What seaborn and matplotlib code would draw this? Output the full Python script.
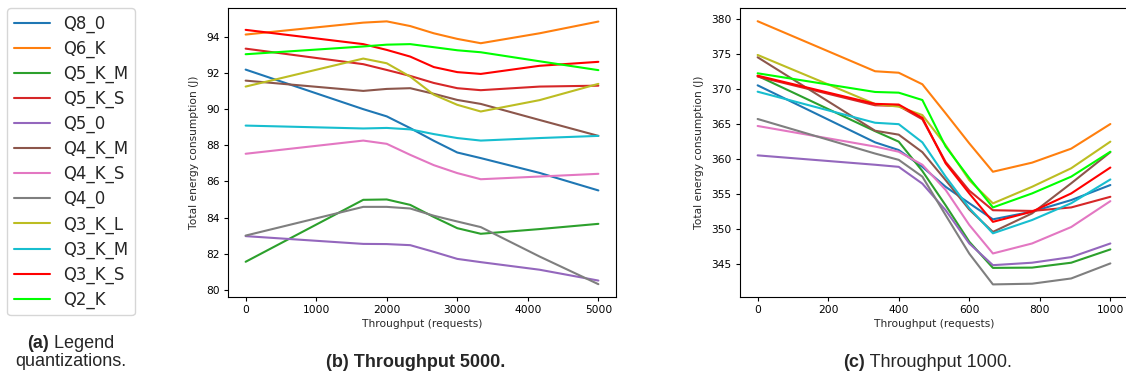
import matplotlib
matplotlib.use("Agg")
import matplotlib.pyplot as plt
from matplotlib.lines import Line2D
import seaborn as sns
import pandas as pd

# ---------------- data ----------------
SERIES = ["Q8_0", "Q6_K", "Q5_K_M", "Q5_K_S", "Q5_0", "Q4_K_M", "Q4_K_S",
          "Q4_0", "Q3_K_L", "Q3_K_M", "Q3_K_S", "Q2_K"]
COLORS = ["#1f77b4", "#ff7f0e", "#2ca02c", "#d62728", "#9467bd", "#8c564b",
          "#e377c2", "#7f7f7f", "#bcbd22", "#17becf", "#ff0000", "#00ff00"]

# Panel (b): throughput 5000
X_B = [0, 1667, 2000, 2333, 2667, 3000, 3333, 4167, 5000]
b_q8_0   = [92.19, 90.00, 89.60, 88.95, 88.25, 87.60, 87.29, 86.47, 85.50]
b_q6_k   = [94.13, 94.79, 94.86, 94.60, 94.20, 93.89, 93.65, 94.20, 94.85]
b_q5_k_m = [81.55, 84.98, 85.00, 84.70, 84.03, 83.41, 83.10, 83.36, 83.65]
b_q5_k_s = [93.35, 92.49, 92.17, 91.84, 91.45, 91.16, 91.05, 91.25, 91.30]
b_q5_0   = [82.97, 82.54, 82.53, 82.47, 82.10, 81.71, 81.53, 81.11, 80.51]
b_q4_k_m = [91.58, 91.01, 91.12, 91.16, 90.85, 90.51, 90.29, 89.40, 88.52]
b_q4_k_s = [87.53, 88.26, 88.08, 87.47, 86.90, 86.46, 86.12, 86.27, 86.42]
b_q4_0   = [83.00, 84.59, 84.59, 84.50, 84.10, 83.78, 83.47, 81.84, 80.31]
b_q3_k_l = [91.25, 92.80, 92.54, 91.80, 90.80, 90.24, 89.87, 90.50, 91.40]
b_q3_k_m = [89.09, 88.93, 88.96, 88.88, 88.62, 88.40, 88.26, 88.40, 88.52]
b_q3_k_s = [94.39, 93.60, 93.28, 92.91, 92.33, 92.05, 91.95, 92.40, 92.62]
b_q2_k   = [93.04, 93.47, 93.57, 93.60, 93.43, 93.26, 93.15, 92.65, 92.16]

# Panel (c): throughput 1000
X_C = [0, 333, 400, 467, 533, 600, 667, 778, 889, 1000]
c_q8_0   = [370.55, 362.40, 361.30, 358.90, 356.05, 353.70, 351.40, 352.50, 354.15, 356.30]
c_q6_k   = [379.71, 372.56, 372.35, 370.70, 366.55, 362.26, 358.20, 359.50, 361.50, 365.02]
c_q5_k_m = [371.90, 364.00, 362.50, 358.30, 353.40, 348.20, 344.46, 344.50, 345.20, 347.10]
c_q5_k_s = [371.80, 367.70, 367.60, 365.70, 359.60, 355.50, 352.70, 352.60, 353.10, 354.62]
c_q5_0   = [360.54, 359.20, 358.90, 356.50, 352.70, 347.95, 344.85, 345.20, 346.00, 347.95]
c_q4_k_m = [374.56, 364.06, 363.50, 361.00, 357.00, 352.80, 349.60, 352.25, 356.55, 361.00]
c_q4_k_s = [364.74, 361.80, 361.06, 359.20, 355.60, 350.60, 346.52, 347.95, 350.30, 354.00]
c_q4_0   = [365.74, 360.80, 359.90, 357.50, 352.00, 346.50, 342.10, 342.20, 342.95, 345.10]
c_q3_k_l = [374.89, 367.88, 367.50, 366.30, 362.00, 357.00, 353.68, 356.05, 358.70, 362.50]
c_q3_k_m = [369.64, 365.20, 365.00, 362.40, 357.50, 353.00, 349.40, 351.30, 353.70, 357.10]
c_q3_k_s = [371.93, 367.90, 367.80, 365.90, 359.40, 355.10, 351.04, 352.50, 355.10, 358.80]
c_q2_k   = [372.27, 369.60, 369.50, 368.45, 361.80, 357.30, 353.10, 355.10, 357.50, 361.06]

B_VALUES = [b_q8_0, b_q6_k, b_q5_k_m, b_q5_k_s, b_q5_0, b_q4_k_m, b_q4_k_s,
            b_q4_0, b_q3_k_l, b_q3_k_m, b_q3_k_s, b_q2_k]
C_VALUES = [c_q8_0, c_q6_k, c_q5_k_m, c_q5_k_s, c_q5_0, c_q4_k_m, c_q4_k_s,
            c_q4_0, c_q3_k_l, c_q3_k_m, c_q3_k_s, c_q2_k]

X_TICKS_B = [0, 1000, 2000, 3000, 4000, 5000]
Y_TICKS_B = [80, 82, 84, 86, 88, 90, 92, 94]
X_TICKS_C = [0, 200, 400, 600, 800, 1000]
Y_TICKS_C = [345, 350, 355, 360, 365, 370, 375, 380]


def long_df(xs, values):
    rows = []
    for name, vals in zip(SERIES, values):
        for x, y in zip(xs, vals):
            rows.append({"x": x, "y": y, "series": name})
    return pd.DataFrame(rows)


# ---------------- figure ----------------
sns.set_style("ticks")
plt.rcParams["font.family"] = ["DejaVu Sans"]

W, H = 1126, 376
fig = plt.figure(figsize=(W / 100, H / 100), dpi=100)
palette = dict(zip(SERIES, COLORS))

def px_axes(left, top, right, bottom):
    return fig.add_axes([left / W, 1 - bottom / H, (right - left) / W, (bottom - top) / H])

ax_b = px_axes(228, 8, 616, 297)
ax_c = px_axes(740, 8, 1128, 297)

for ax, xs, vals, xt, yt, xlim, ylim in [
    (ax_b, X_B, B_VALUES, X_TICKS_B, Y_TICKS_B, (-250, 5250), (79.6, 95.6)),
    (ax_c, X_C, C_VALUES, X_TICKS_C, Y_TICKS_C, (-50, 1050), (340.3, 381.6)),
]:
    df = long_df(xs, vals)
    sns.lineplot(data=df, x="x", y="y", hue="series", hue_order=SERIES,
                 palette=palette, linewidth=1.5, legend=False, ax=ax,
                 estimator=None, sort=True)
    ax.set_xlim(*xlim)
    ax.set_ylim(*ylim)
    ax.set_xticks(xt)
    ax.set_yticks(yt)
    ax.tick_params(labelsize=7.7, length=3, width=0.8, pad=3, colors="black")
    ax.set_xlabel("Throughput (requests)", fontsize=7.7, labelpad=2.5)
    ax.set_ylabel("Total energy consumption (J)", fontsize=7.7, labelpad=5)
    for s in ax.spines.values():
        s.set_visible(True)
        s.set_color("black")
        s.set_linewidth(0.8)

# legend (panel a)
handles = [Line2D([], [], color=c, linewidth=1.5) for c in COLORS]
leg = fig.legend(handles, SERIES, loc="upper left",
                 bbox_to_anchor=(7.5 / W, 1 - 8.3 / H), borderaxespad=0,
                 fontsize=11.9, handlelength=2.2, handletextpad=0.75,
                 labelspacing=0.41, borderpad=0.4, frameon=True)
leg.get_frame().set_edgecolor("#cccccc")

# captions with mixed bold / regular parts
renderer = fig.canvas.get_renderer()
CAP_FONT = ["Liberation Sans", "DejaVu Sans"]
CAP_SIZE = 13


def caption(parts, xc, yc):
    widths = []
    for txt, wt in parts:
        t = fig.text(0, 0, txt, fontsize=CAP_SIZE, fontweight=wt, family=CAP_FONT)
        bb = t.get_window_extent(renderer)
        widths.append(bb.width)
        t.remove()
    total = sum(widths)
    x = xc - total / 2
    for (txt, wt), w in zip(parts, widths):
        fig.text(x / W, 1 - yc / H, txt, fontsize=CAP_SIZE, fontweight=wt,
                 family=CAP_FONT, ha="left", va="center")
        x += w


caption([("(a)", "bold"), (" Legend", "normal")], 70.5, 343)
caption([("quantizations.", "normal")], 70.5, 362)
caption([("(b) Throughput 5000.", "bold")], 415.5, 362.7)
caption([("(c)", "bold"), (" Throughput 1000.", "normal")], 927.5, 362.7)

fig.savefig("out.png", dpi=100)
